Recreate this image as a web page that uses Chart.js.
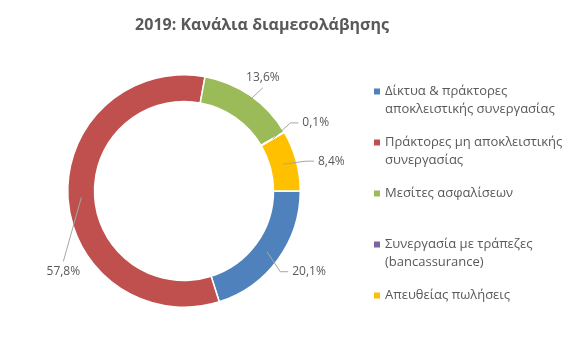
<!DOCTYPE html>
<html>
<head>
<meta charset="utf-8">
<script src="https://cdn.jsdelivr.net/npm/chart.js@4/dist/chart.umd.min.js"></script>
<style>
  html, body { margin: 0; padding: 0; background: #ffffff; }
  #wrap { width: 567px; height: 345px; position: relative; }
</style>
</head>
<body>
<div id="wrap"><canvas id="chart" width="567" height="345"></canvas></div>
<script>
// Distribution channels, 2019 (share of total, %)
const chartTitle = '2019: Κανάλια διαμεσολάβησης';
const categories = [
  ['Δίκτυα & πράκτορες', 'αποκλειστικής συνεργασίας'],
  ['Πράκτορες μη αποκλειστικής', 'συνεργασίας'],
  ['Μεσίτες ασφαλίσεων'],
  ['Συνεργασία με τράπεζες', '(bancassurance)'],
  ['Απευθείας πωλήσεις']
];
const shares = [20.1, 57.8, 13.6, 0.1, 8.4];
const sliceColors = ['#4F81BD', '#C0504D', '#9BBB59', '#8064A2', '#FFC000'];

// Where each value label sits, relative to the middle of its slice (px)
const labelOffsets = [[42, 20], [-18, 74], [20, -29], [43, -16], [48, -3]];

const FONT = '"Open Sans", "Noto Sans", sans-serif';
const TEXT_COLOR = '#595959';

function fmt(v) {
  return v.toFixed(1).replace('.', ',') + '%';
}

// Value labels with leader lines
const valueLabels = {
  id: 'valueLabels',
  afterDatasetsDraw(chart) {
    const ctx = chart.ctx;
    const meta = chart.getDatasetMeta(0);
    ctx.save();
    ctx.font = '12px ' + FONT;
    ctx.textAlign = 'center';
    ctx.textBaseline = 'middle';
    meta.data.forEach((arc, i) => {
      const p = arc.getProps(['x', 'y', 'startAngle', 'endAngle', 'innerRadius', 'outerRadius'], true);
      const mid = (p.startAngle + p.endAngle) / 2;
      const r = (p.innerRadius + p.outerRadius) / 2;
      const ax = p.x + Math.cos(mid) * r;
      const ay = p.y + Math.sin(mid) * r;
      const tx = ax + labelOffsets[i][0];
      const ty = ay + labelOffsets[i][1];
      const text = fmt(shares[i]);
      const hw = ctx.measureText(text).width / 2 + 4;
      const hh = 10;
      let pts;
      if (ax < tx - hw) {
        const ex = tx - hw;
        pts = [[ax, ay], [ex - 8, ty], [ex, ty]];
      } else if (ax > tx + hw) {
        const ex = tx + hw;
        pts = [[ax, ay], [ex + 8, ty], [ex, ty]];
      } else if (ay < ty) {
        pts = [[ax, ay], [tx, ty - hh]];
      } else {
        pts = [[ax, ay], [tx, ty + hh]];
      }
      ctx.strokeStyle = '#A6A6A6';
      ctx.lineWidth = 1;
      ctx.beginPath();
      ctx.moveTo(pts[0][0], pts[0][1]);
      for (let k = 1; k < pts.length; k++) ctx.lineTo(pts[k][0], pts[k][1]);
      ctx.stroke();
      ctx.fillStyle = TEXT_COLOR;
      ctx.fillText(text, tx, ty);
    });
    ctx.restore();
  }
};

// Title and side legend
const decorations = {
  id: 'decorations',
  afterDraw(chart) {
    const ctx = chart.ctx;
    ctx.save();
    ctx.fillStyle = TEXT_COLOR;
    ctx.font = 'bold 16px ' + FONT;
    ctx.textAlign = 'center';
    ctx.textBaseline = 'middle';
    ctx.fillText(chartTitle, 262, 25);

    ctx.font = '13px ' + FONT;
    ctx.textAlign = 'left';
    categories.forEach((lines, i) => {
      const y = 91.5 + 51 * i;
      ctx.fillStyle = sliceColors[i];
      ctx.fillRect(374, y - 3, 6, 6);
      ctx.fillStyle = TEXT_COLOR;
      lines.forEach((line, j) => ctx.fillText(line, 385, y + j * 18));
    });
    ctx.restore();
  }
};

new Chart(document.getElementById('chart'), {
  type: 'doughnut',
  data: {
    labels: categories.map(l => l.join(' ')),
    datasets: [{
      data: shares,
      backgroundColor: sliceColors,
      borderColor: '#ffffff',
      borderWidth: 1.5,
      hoverOffset: 0
    }]
  },
  options: {
    responsive: false,
    animation: false,
    rotation: 90,
    cutout: '77%',
    layout: { padding: { left: 67, top: 74, right: 266, bottom: 37 } },
    plugins: {
      legend: { display: false },
      title: { display: false },
      tooltip: { enabled: false }
    }
  },
  plugins: [valueLabels, decorations]
});
</script>
</body>
</html>
